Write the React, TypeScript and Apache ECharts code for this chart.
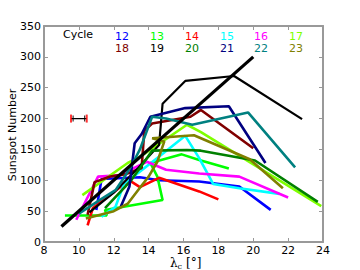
import React, { useEffect, useRef } from "react";
import * as echarts from "echarts";

const cycleNames = ["12", "13", "14", "15", "16", "17", "18", "19", "20", "21", "22", "23"];
const cycleColors = ["#0000ff", "#00ff00", "#ff0000", "#00ffff", "#ff00ff", "#7fff00", "#800000", "#000000", "#008000", "#000080", "#008080", "#808000"];

const cycle12 = [[11.0, 52], [11.3, 102], [13.5, 105], [14.6, 100], [16.9, 98], [19.2, 90], [21.0, 52]];
const cycle13 = [[9.2, 43], [11.6, 43], [11.5, 52], [14.8, 68], [14.5, 106], [14.1, 128], [15.9, 142], [16.9, 133], [18.6, 119]];
const cycle14 = [[10.5, 27], [10.8, 55], [12.9, 100], [13.5, 89], [14.6, 104], [16.9, 82], [18.0, 69]];
const cycle15 = [[11.3, 41], [12.1, 57], [12.6, 95], [13.4, 112], [14.5, 136], [16.1, 172], [16.9, 136], [17.7, 94], [19.2, 87], [21.5, 78]];
const cycle16 = [[9.85, 36], [11.1, 106], [12.3, 108], [13.9, 130], [15.0, 117], [16.9, 111], [19.2, 106], [22.0, 72]];
const cycle17 = [[10.2, 76], [12.8, 128], [13.5, 138], [16.2, 190], [17.0, 178], [23.9, 58]];
const cycle18 = [[10.5, 44], [10.9, 97], [11.8, 106], [12.7, 110], [13.6, 120], [13.75, 180], [14.2, 192], [16.4, 203], [17.0, 214], [20.0, 152]];
const cycle19 = [[10.6, 48], [12.0, 80], [13.4, 120], [14.6, 157], [14.8, 224], [16.1, 261], [18.9, 269], [22.8, 199]];
const cycle20 = [[11.5, 55], [13.0, 100], [14.2, 148], [16.2, 149], [17.0, 148], [20.1, 132], [23.7, 65]];
const cycle21 = [[12.4, 57], [12.9, 90], [13.2, 160], [13.6, 175], [14.1, 203], [16.1, 217], [18.6, 220], [20.7, 128]];
const cycle22 = [[10.0, 46], [11.3, 70], [12.1, 84], [12.6, 105], [13.1, 128], [13.5, 150], [14.2, 203], [15.0, 200], [16.5, 190], [19.7, 210], [22.4, 121]];
const cycle23 = [[10.4, 38], [12.0, 50], [12.8, 62], [13.5, 88], [14.0, 106], [14.5, 130], [14.9, 163], [14.2, 168], [16.6, 173], [19.8, 134], [21.7, 87]];
const cycleData = [cycle12, cycle13, cycle14, cycle15, cycle16, cycle17, cycle18, cycle19, cycle20, cycle21, cycle22, cycle23];

const fitLine = [[9, 25], [20, 300]];
const errCenter = [10.0, 200];
const errHalf = 0.45;

const xTicks = { min: 8, max: 24, interval: 2 };
const yTicks = { min: 0, max: 350, interval: 50 };

export default function App() {
  const ref = useRef<HTMLDivElement>(null);
  useEffect(() => {
    document.body.style.margin = "0";
    const chart = echarts.init(ref.current!, null, { renderer: "svg" });
    const spine = { show: true, onZero: false, lineStyle: { color: "#999999", width: 2 } };
    const tick = { show: true, inside: true, length: 4, lineStyle: { color: "#999999", width: 1 } };
    const label = { color: "#000", fontSize: 11, fontFamily: "DejaVu Sans" };
    const series: any[] = cycleData.map((d, i) => ({
      type: "line",
      name: cycleNames[i],
      data: d,
      showSymbol: false,
      lineStyle: { color: cycleColors[i], width: i === 7 ? 2.2 : 2.6 },
      itemStyle: { color: cycleColors[i] },
      z: 2 + i,
    }));
    series.push({
      type: "line",
      name: "fit",
      data: fitLine,
      showSymbol: false,
      lineStyle: { color: "#000", width: 3.2 },
      z: 20,
    });
    series.push({
      type: "line",
      name: "err",
      data: [[errCenter[0] - errHalf, errCenter[1]], [errCenter[0] + errHalf, errCenter[1]]],
      showSymbol: false,
      lineStyle: { color: "#000", width: 1.2 },
      z: 21,
    });
    series.push({
      type: "scatter",
      name: "errcapsRed",
      data: [[errCenter[0] - errHalf, errCenter[1]], [errCenter[0] + errHalf, errCenter[1]]],
      symbol: "rect",
      symbolSize: [2, 8],
      itemStyle: { color: "#ff0000" },
      z: 22,
    });
    series.push({
      type: "scatter",
      name: "errcapsBlack",
      data: [[errCenter[0] - errHalf + 0.12, errCenter[1]], [errCenter[0] + errHalf - 0.12, errCenter[1]]],
      symbol: "rect",
      symbolSize: [1.2, 6],
      itemStyle: { color: "#000" },
      z: 22,
    });

    const legendX = [122, 157, 192, 227, 261, 296];
    const graphics: any[] = [
      { type: "text", left: 63, top: 29, style: { text: "Cycle", fill: "#000", font: "11px DejaVu Sans" } },
    ];
    cycleNames.forEach((n, i) => {
      const col = i % 6;
      const row = Math.floor(i / 6);
      graphics.push({
        type: "text",
        x: legendX[col],
        y: 36 + row * 12,
        style: { text: n, fill: cycleColors[i], font: "11px DejaVu Sans", align: "center", verticalAlign: "middle" },
      });
    });
    graphics.push({
      type: "text",
      x: 12,
      y: 135,
      rotation: Math.PI / 2,
      style: { text: "Sunspot Number", fill: "#000", font: "11px DejaVu Sans", align: "center", verticalAlign: "middle" },
    });
    graphics.push({
      type: "text",
      x: 170,
      y: 257,
      style: { text: "λ", fill: "#000", font: "12px DejaVu Serif", lineHeight: 12, align: "left", verticalAlign: "top" },
    });
    graphics.push({
      type: "text",
      x: 177.5,
      y: 262,
      style: { text: "c", fill: "#000", font: "8px DejaVu Serif", lineHeight: 8, align: "left", verticalAlign: "top" },
    });
    graphics.push({
      type: "text",
      x: 186,
      y: 257,
      style: { text: "[°]", fill: "#000", font: "12px DejaVu Serif", lineHeight: 12, align: "left", verticalAlign: "top" },
    });

    chart.setOption({
      animation: false,
      grid: { left: 44, top: 26, width: 279, height: 216, show: false },
      xAxis: [
        { type: "value", ...xTicks, position: "bottom", axisLine: spine, axisTick: tick, axisLabel: { ...label, margin: 3 }, splitLine: { show: false } },
        { type: "value", ...xTicks, position: "top", axisLine: spine, axisTick: tick, axisLabel: { show: false }, splitLine: { show: false } },
      ],
      yAxis: [
        { type: "value", ...yTicks, position: "left", axisLine: spine, axisTick: tick, axisLabel: { ...label, margin: 3 }, splitLine: { show: false } },
        { type: "value", ...yTicks, position: "right", axisLine: spine, axisTick: tick, axisLabel: { show: false }, splitLine: { show: false } },
      ],
      series,
      graphic: graphics,
    });
    return () => chart.dispose();
  }, []);
  return <div ref={ref} style={{ width: 360, height: 270 }} />;
}
